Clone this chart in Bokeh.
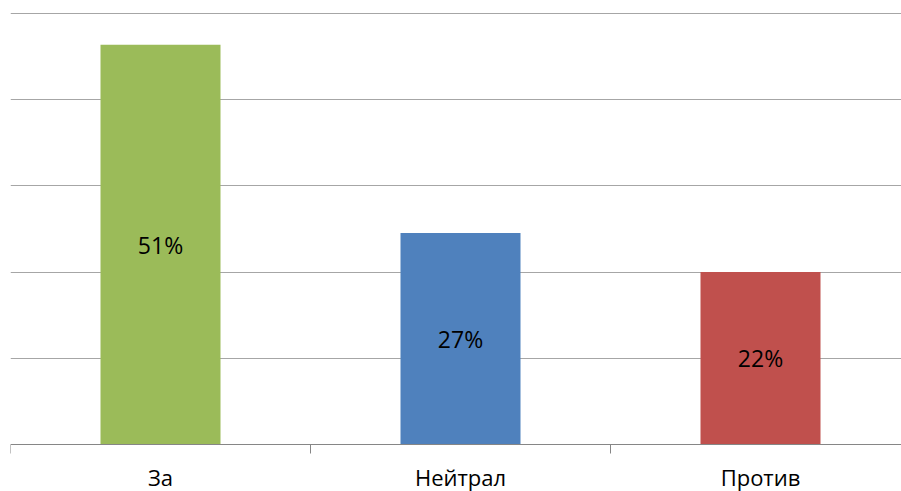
from bokeh.plotting import figure
from bokeh.models import Range1d, FixedTicker, ColumnDataSource, Span
from bokeh.core.properties import value
from bokeh.embed import file_html
from bokeh.resources import INLINE

# Survey answers and their shares (percent)
categories = ["За", "Нейтрал", "Против"]
shares = [51, 27, 22]
share_labels = ["51%", "27%", "22%"]
bar_colors = ["#9BBB59", "#4F81BD", "#C0504D"]

y_max = 55
grid_step = 11

W, H = 901, 491
top_pad = 12          # space above the top gridline
plot_px = 431         # pixel height of the 0..y_max value band
below_px = 47         # room under the baseline for ticks and category names
tick_px = 9
label_px = 32

ppu = plot_px / y_max                 # pixels per value unit
y_start = -below_px / ppu
y_end = y_max + 1 / ppu

n = len(categories)
centers = [i + 0.5 for i in range(n)]
bounds = list(range(n + 1))

bars = ColumnDataSource(data=dict(
    x=centers,
    top=shares,
    mid=[s / 2 for s in shares],
    label=share_labels,
    cat=categories,
    color=bar_colors,
))

p = figure(
    width=W, height=H,
    output_backend="svg", toolbar_location=None,
    x_range=Range1d(0, (W - 10) / 300), y_range=Range1d(y_start, y_end),
    x_axis_location=None, y_axis_location=None,
    min_border_left=10, min_border_right=0,
    min_border_top=top_pad, min_border_bottom=0,
)
p.outline_line_color = None
p.background_fill_color = "white"
p.border_fill_color = "white"

# horizontal gridlines only
p.xgrid.visible = False
p.ygrid.ticker = FixedTicker(ticks=[grid_step * k for k in range(1, y_max // grid_step + 1)])
p.ygrid.grid_line_color = "#a6a6a6"
p.ygrid.grid_line_width = 1

p.vbar(x="x", top="top", bottom=0, width=0.4, color="color", line_color=None, source=bars)

# value labels in the middle of each bar
p.text(x="x", y="mid", text="label", source=bars,
       text_align="center", text_baseline="middle",
       text_font=value("Open Sans"), text_font_size="23px", text_color="#000000")

# baseline and short ticks at category boundaries
p.add_layout(Span(location=0, dimension="width", line_color="#868686", line_width=1))
p.segment(x0=bounds, y0=[0] * len(bounds), x1=bounds, y1=[-tick_px / ppu] * len(bounds),
          line_color="#868686", line_width=1)

# category names under each bar
p.text(x="x", y=-label_px / ppu, text="cat", source=bars,
       text_align="center", text_baseline="middle",
       text_font=value("Open Sans"), text_font_size="22px", text_color="#000000")

open("out.html", "w").write(file_html(p, INLINE))
